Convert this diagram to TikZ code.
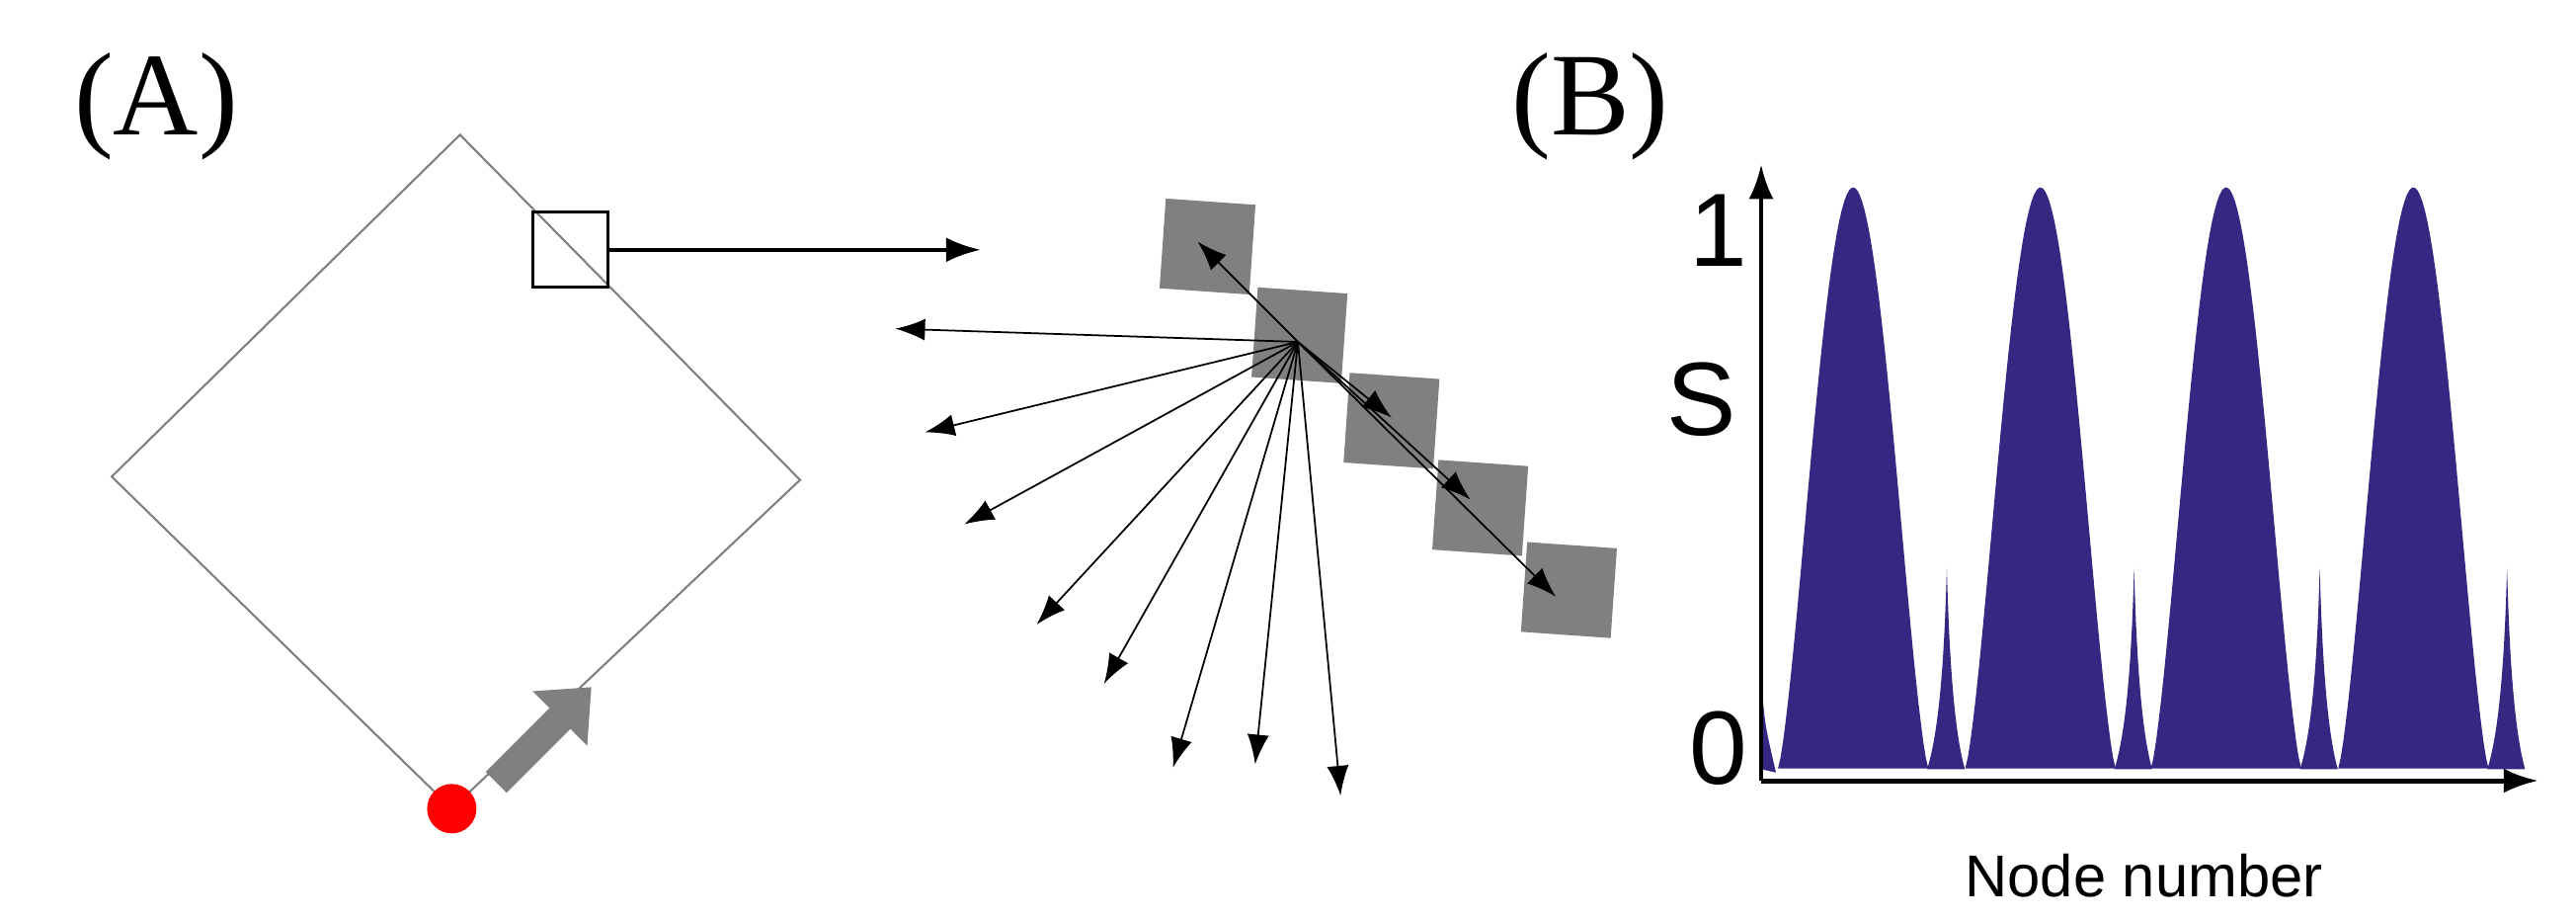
\documentclass[tikz,border=0pt]{standalone}
\usepackage{fontspec}
\setmainfont{Liberation Serif}
\newfontfamily\sansf{Liberation Sans}
\usetikzlibrary{arrows.meta}
\definecolor{plotc}{RGB}{52,40,130}
\definecolor{sqgray}{RGB}{128,128,128}
\begin{document}
\begin{tikzpicture}[x=0.01663cm,y=-0.01663cm,
  fan/.style={-{Latex[length=0.3cm,width=0.22cm]},line width=0.5pt},
  sq/.style={fill=sqgray,minimum size=0.91cm,inner sep=0,rotate=-4,draw=none},
  lab/.style={font=\fontsize{34}{36}\selectfont,inner sep=0},
  ax/.style={font=\sansf\fontsize{30}{32}\selectfont,inner sep=0}]
\useasboundingbox (0,0) rectangle (1568,560);
% (A)
\node[lab] (la) at (95,65) {(A)};
\node[lab] (lb) at (968,65) {(B)};
% diamond
\coordinate (dt) at (280,82); \coordinate (dr) at (487,292);
\coordinate (db) at (275,492); \coordinate (dl) at (68,290);
\draw[gray,line width=0.6pt] (dt)--(dr)--(db)--(dl)--cycle;
\node[draw,line width=0.8pt,minimum size=0.76cm,inner sep=0] (ssq) at (347,152) {};
\coordinate (hend) at (597,152);
\draw[-{Latex[length=0.35cm,width=0.25cm]},line width=1.3pt] (ssq.east)--(hend);
\node[circle,fill=red,minimum size=0.5cm,inner sep=0] (dot) at (275,492) {};
\coordinate (ga) at (302,476); \coordinate (gb) at (360,418);
\draw[sqgray,line width=0.3cm,-{Triangle[length=0.45cm,width=0.75cm]}] (ga)--(gb);
% gray squares
\node[sq] (s1) at (735,150) {};
\node[sq] (s2) at (791,204) {};
\node[sq] (s3) at (847,256) {};
\node[sq] (s4) at (901,309) {};
\node[sq] (s5) at (955,359) {};
\coordinate (o) at (790,208);
\coordinate (d1) at (729,147); \coordinate (d2) at (947,363);
\draw[fan,{Latex[length=0.3cm,width=0.22cm]}-] (d1)--(o);
\draw[fan] (o)--(d2);
\coordinate (k1) at (847,254); \coordinate (k2) at (895,304);
\draw[fan] (o)--(k1); \draw[fan] (o)--(k2);
\foreach \n/\x/\y in {e1/545/200,e2/563/263,e3/587/319,e4/631/380,e5/672/416,e6/714/467,e7/764/465,e8/816/484}{
  \coordinate (\n) at (\x,\y);
  \draw[fan] (o)--(\n);
}
% plot
\foreach \c in {1128,1242,1355,1469}{
  \fill[plotc] plot[domain=-0.995:0.995,samples=60] ({\c+46*\x},{468-354*cos(90*\x)^1.4}) -- cycle;
  \fill[plotc] ({\c+45},468) .. controls ({\c+54},440) and ({\c+56},380) .. ({\c+57},346)
     .. controls ({\c+58},380) and ({\c+60},440) .. ({\c+68},468) -- cycle;
}
\fill[plotc] (1072,468) -- (1072,410) .. controls (1074,440) .. (1081,470) -- cycle;
\coordinate (O) at (1072,475); \coordinate (Y) at (1072,100); \coordinate (X) at (1545,475);
\draw[line width=1.4pt,-{Latex[length=0.35cm,width=0.25cm]}] (O)--(Y);
\draw[line width=1.4pt,-{Latex[length=0.35cm,width=0.25cm]}] (O)--(X);
\node[ax] (one) at (1046,140) {1};
\node[ax] (S) at (1036,243) {S};
\node[ax] (zero) at (1046,455) {0};
\node[font=\sansf\fontsize{17}{19}\selectfont,inner sep=0] (nn) at (1305,533) {Node number};
\end{tikzpicture}
\end{document}
